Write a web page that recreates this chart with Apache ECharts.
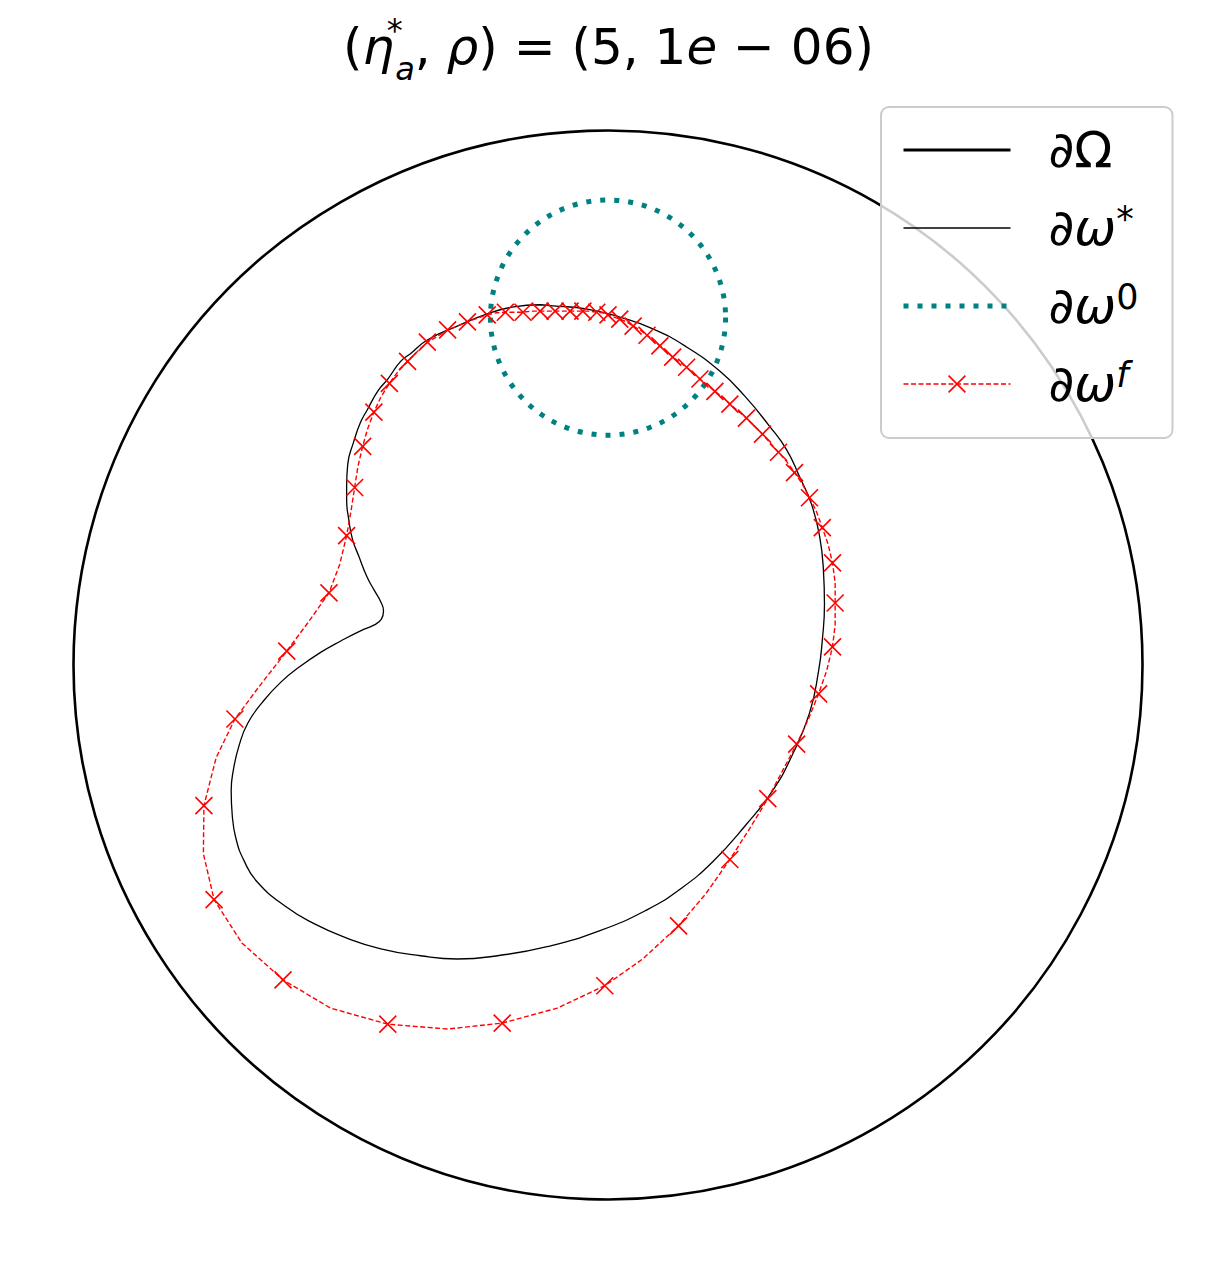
<!DOCTYPE html>
<html><head><meta charset="utf-8">
<script src="https://cdn.jsdelivr.net/npm/echarts@6/dist/echarts.min.js"></script>
<style>html,body{margin:0;padding:0;background:#fff}#c{width:1217px;height:1270px}</style>
</head><body><div id="c"></div>
<script>
// ∂ω* : target inclusion boundary
const starX = [-0.127,-0.103,-0.039,0.022,0.084,0.147,0.209,0.256,0.302,0.334,0.358,0.381,0.396,0.403,0.405,0.401,0.394,0.377,0.343,0.308,0.259,0.196,0.134,0.073,-0.015,-0.114,-0.201,-0.282,-0.351,-0.425,-0.491,-0.550,-0.603,-0.657,-0.681,-0.696,-0.703,-0.705,-0.701,-0.690,-0.674,-0.646,-0.612,-0.575,-0.537,-0.500,-0.463,-0.437,-0.424,-0.420,-0.425,-0.438,-0.451,-0.466,-0.478,-0.485,-0.489,-0.489,-0.487,-0.476,-0.463,-0.450,-0.431,-0.412,-0.388,-0.369,-0.338,-0.282,-0.226,-0.177];
const starY = [0.674,0.672,0.666,0.651,0.629,0.595,0.550,0.503,0.447,0.403,0.353,0.300,0.240,0.178,0.113,0.047,-0.011,-0.090,-0.172,-0.235,-0.298,-0.368,-0.420,-0.458,-0.497,-0.527,-0.543,-0.550,-0.544,-0.531,-0.510,-0.484,-0.452,-0.405,-0.366,-0.325,-0.281,-0.235,-0.197,-0.150,-0.109,-0.069,-0.032,-0.002,0.024,0.045,0.064,0.075,0.086,0.101,0.118,0.141,0.165,0.203,0.235,0.272,0.310,0.334,0.375,0.417,0.454,0.478,0.512,0.535,0.568,0.583,0.608,0.634,0.657,0.670];
// ∂ω^f : reconstructed boundary (marker on every other vertex)
const finalX = [-0.226,-0.209,-0.192,-0.175,-0.159,-0.144,-0.127,-0.112,-0.099,-0.084,-0.071,-0.058,-0.047,-0.034,-0.021,-0.009,0.000,0.011,0.022,0.035,0.047,0.060,0.073,0.086,0.097,0.110,0.121,0.134,0.147,0.160,0.172,0.187,0.200,0.215,0.228,0.244,0.259,0.274,0.289,0.304,0.319,0.334,0.349,0.364,0.377,0.390,0.401,0.412,0.420,0.425,0.425,0.425,0.420,0.409,0.394,0.375,0.353,0.326,0.299,0.265,0.228,0.183,0.132,0.065,-0.006,-0.095,-0.198,-0.300,-0.412,-0.519,-0.608,-0.685,-0.737,-0.757,-0.756,-0.733,-0.698,-0.651,-0.601,-0.560,-0.522,-0.502,-0.489,-0.481,-0.474,-0.468,-0.459,-0.450,-0.438,-0.425,-0.409,-0.392,-0.375,-0.356,-0.338,-0.319,-0.300,-0.282,-0.263,-0.244];
const finalY = [0.655,0.659,0.660,0.660,0.660,0.662,0.662,0.662,0.662,0.662,0.662,0.662,0.662,0.662,0.660,0.659,0.655,0.651,0.647,0.642,0.634,0.627,0.617,0.608,0.597,0.587,0.576,0.567,0.557,0.546,0.535,0.523,0.512,0.501,0.488,0.475,0.462,0.447,0.432,0.415,0.398,0.381,0.360,0.338,0.313,0.287,0.257,0.225,0.191,0.154,0.116,0.075,0.034,-0.011,-0.054,-0.101,-0.148,-0.199,-0.250,-0.306,-0.364,-0.428,-0.488,-0.550,-0.600,-0.642,-0.670,-0.681,-0.672,-0.642,-0.589,-0.520,-0.439,-0.353,-0.263,-0.173,-0.101,-0.038,0.026,0.081,0.135,0.188,0.242,0.287,0.332,0.371,0.409,0.441,0.473,0.501,0.527,0.550,0.568,0.587,0.604,0.615,0.627,0.634,0.642,0.649];
// ∂Ω (domain) and ∂ω^0 (initial guess) circles: [cx, cy, r]
const domainCircle = [0, 0, 1];
const initCircle = [0, 0.65, 0.22];
const legendNames = ['dOmega', 'dOmegaStar', 'dOmega0', 'dOmegaF'];
const legendLabels = {
  dOmega: '{g| }{i|∂}{n|Ω}',
  dOmegaStar: '{g| }{i|∂ω}{s|*}',
  dOmega0: '{g| }{i|∂ω}{s|0}',
  dOmegaF: '{g| }{i|∂ω}{sf|f}'
};

const X_MARK = 'path://M0,0L10,10M10,0L0,10';
const TEAL = '#008080';
const RED = '#ff0000';

function closedLoop(xs, ys) {
  const d = xs.map((x, i) => [x, ys[i]]);
  d.push([xs[0], ys[0]]);
  return d;
}
const finalData = finalX.map((x, i) => ({ value: [x, finalY[i]], symbol: i % 2 === 0 ? X_MARK : 'none' }));
finalData.push({ value: [finalX[0], finalY[0]], symbol: 'none' });

function circleItem(color, width, dash) {
  return function (params, api) {
    const c = api.coord([api.value(0), api.value(1)]);
    const s = api.size([api.value(2), api.value(2)]);
    return {
      type: 'circle',
      shape: { cx: c[0], cy: c[1], r: (s[0] + s[1]) / 2 },
      style: { fill: 'none', stroke: color, lineWidth: width, lineDash: dash || null, lineCap: 'butt' }
    };
  };
}

const chart = echarts.init(document.getElementById('c'), null, { renderer: 'svg' });
chart.setOption({
  backgroundColor: '#ffffff',
  animation: false,
  title: {
    text: '{n|(}{i|η}{sup|*}{sub|a}{n|, }{i|ρ}{n|) = (5, 1}{i|e}{n| − 06)}',
    left: 'center',
    top: 4,
    textStyle: {
      fontFamily: 'DejaVu Sans', fontSize: 50, fontWeight: 'normal', color: '#000',
      rich: {
        n: { fontFamily: 'DejaVu Sans', fontSize: 50, lineHeight: 76, color: '#000' },
        i: { fontFamily: 'DejaVu Sans', fontStyle: 'italic', fontSize: 50, lineHeight: 76, color: '#000' },
        sup: { fontFamily: 'DejaVu Sans', fontSize: 32, lineHeight: 32, padding: [5, 0, 0, 0], verticalAlign: 'top', width: 1, color: '#000' },
        sub: { fontFamily: 'DejaVu Sans', fontStyle: 'italic', fontSize: 32, lineHeight: 32, verticalAlign: 'bottom', color: '#000' }
      }
    }
  },
  grid: { left: 73.5, top: 130.5, width: 1069, height: 1069, containLabel: false },
  xAxis: { type: 'value', min: -1, max: 1, show: false, splitLine: { show: false } },
  yAxis: { type: 'value', min: -1, max: 1, show: false, splitLine: { show: false } },
  legend: {
    data: [
      { name: 'dOmega', itemStyle: { opacity: 0 }, lineStyle: { color: '#000', width: 3 } },
      { name: 'dOmegaStar', itemStyle: { opacity: 0 }, lineStyle: { color: '#000', width: 1.4 } },
      { name: 'dOmega0', itemStyle: { opacity: 0 }, lineStyle: { color: TEAL, width: 5, type: [5, 9] } },
      { name: 'dOmegaF', itemStyle: { color: RED, borderColor: RED, borderWidth: 1.6 }, lineStyle: { color: RED, width: 1.4, type: [5, 2.5] } }
    ],
    orient: 'vertical',
    left: 881, top: 107,
    padding: [18, 34, 29, 20],
    itemGap: 26,
    itemWidth: 107,
    itemHeight: 21,
    itemTextGap: 10,
    backgroundColor: 'rgba(255,255,255,0.8)',
    borderColor: '#cccccc',
    borderWidth: 2,
    borderRadius: 8,
    formatter: (name) => legendLabels[name],
    selectedMode: false,
    textStyle: {
      fontFamily: 'DejaVu Sans', fontSize: 50, color: '#000',
      rich: {
        g: { fontSize: 10, width: 33, lineHeight: 54 },
        i: { fontFamily: 'DejaVu Sans', fontStyle: 'italic', fontSize: 50, lineHeight: 54, color: '#000' },
        n: { fontFamily: 'DejaVu Sans', fontSize: 50, lineHeight: 54, color: '#000' },
        s: { fontFamily: 'DejaVu Sans', fontSize: 35, lineHeight: 35, verticalAlign: 'top', color: '#000' },
        sf: { fontFamily: 'DejaVu Sans', fontStyle: 'italic', fontSize: 35, lineHeight: 35, verticalAlign: 'top', color: '#000' }
      }
    }
  },
  series: [
    { type: 'custom', name: 'domainShape', data: [domainCircle], renderItem: circleItem('#000', 2.6), silent: true, clip: false, z: 2 },
    { type: 'line', name: 'dOmega', data: [], symbol: 'none', lineStyle: { color: '#000', width: 3 }, itemStyle: { color: '#000' } },
    { type: 'line', name: 'dOmegaStar', data: closedLoop(starX, starY), symbol: 'none', smooth: 0.5, smoothConstraint: false, lineStyle: { color: '#000', width: 1.3 }, itemStyle: { color: '#000' }, z: 3, silent: true },
    { type: 'custom', name: 'initShape', data: [initCircle], renderItem: circleItem(TEAL, 5, [5, 9]), silent: true, clip: false, z: 4 },
    { type: 'line', name: 'dOmega0', data: [], symbol: 'none', lineStyle: { color: TEAL, width: 5, type: [5, 9] }, itemStyle: { color: TEAL } },
    { type: 'line', name: 'dOmegaF', data: finalData, symbol: X_MARK, symbolSize: 17, showSymbol: true, showAllSymbol: true,
      lineStyle: { color: RED, width: 1.4, type: [5, 2.5] },
      itemStyle: { color: RED, borderColor: RED, borderWidth: 1.6 }, z: 5, silent: true }
  ]
});
</script></body></html>
